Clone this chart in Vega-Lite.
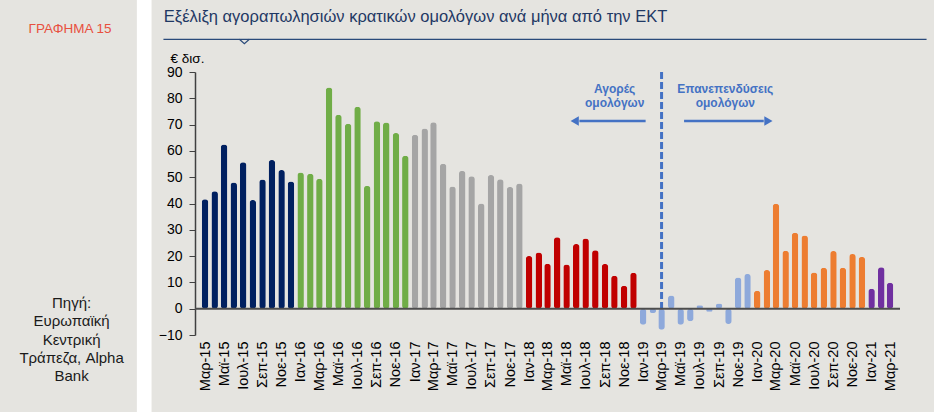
{
  "$schema": "https://vega.github.io/schema/vega-lite/v6.json",
  "width": 705,
  "height": 263,
  "autosize": {"type": "none"},
  "padding": {"left": 195, "top": 72, "right": 34, "bottom": 77},
  "background": "#E5E4E0",
  "config": {
    "view": {"stroke": null},
    "font": "Liberation Sans",
    "axis": {"labelOverlap": false, "labelBound": false, "labelSeparation": 0},
    "axisY": {"labelOverlap": false}
  },
  "datasets": {
    "bars": [
      {"d": "2015-03-01", "v": 41.6, "yr": "2015"},
      {"d": "2015-04-01", "v": 44.7, "yr": "2015"},
      {"d": "2015-05-01", "v": 62.4, "yr": "2015"},
      {"d": "2015-06-01", "v": 48.0, "yr": "2015"},
      {"d": "2015-07-01", "v": 55.7, "yr": "2015"},
      {"d": "2015-08-01", "v": 41.3, "yr": "2015"},
      {"d": "2015-09-01", "v": 49.1, "yr": "2015"},
      {"d": "2015-10-01", "v": 56.5, "yr": "2015"},
      {"d": "2015-11-01", "v": 52.7, "yr": "2015"},
      {"d": "2015-12-01", "v": 48.4, "yr": "2015"},
      {"d": "2016-01-01", "v": 51.8, "yr": "2016"},
      {"d": "2016-02-01", "v": 51.3, "yr": "2016"},
      {"d": "2016-03-01", "v": 49.4, "yr": "2016"},
      {"d": "2016-04-01", "v": 84.1, "yr": "2016"},
      {"d": "2016-05-01", "v": 73.7, "yr": "2016"},
      {"d": "2016-06-01", "v": 70.3, "yr": "2016"},
      {"d": "2016-07-01", "v": 76.8, "yr": "2016"},
      {"d": "2016-08-01", "v": 46.7, "yr": "2016"},
      {"d": "2016-09-01", "v": 71.3, "yr": "2016"},
      {"d": "2016-10-01", "v": 70.8, "yr": "2016"},
      {"d": "2016-11-01", "v": 66.8, "yr": "2016"},
      {"d": "2016-12-01", "v": 58.2, "yr": "2016"},
      {"d": "2017-01-01", "v": 66.1, "yr": "2017"},
      {"d": "2017-02-01", "v": 68.5, "yr": "2017"},
      {"d": "2017-03-01", "v": 70.9, "yr": "2017"},
      {"d": "2017-04-01", "v": 55.1, "yr": "2017"},
      {"d": "2017-05-01", "v": 46.5, "yr": "2017"},
      {"d": "2017-06-01", "v": 52.4, "yr": "2017"},
      {"d": "2017-07-01", "v": 50.4, "yr": "2017"},
      {"d": "2017-08-01", "v": 40.0, "yr": "2017"},
      {"d": "2017-09-01", "v": 50.8, "yr": "2017"},
      {"d": "2017-10-01", "v": 49.2, "yr": "2017"},
      {"d": "2017-11-01", "v": 46.3, "yr": "2017"},
      {"d": "2017-12-01", "v": 47.6, "yr": "2017"},
      {"d": "2018-01-01", "v": 20.0, "yr": "2018"},
      {"d": "2018-02-01", "v": 21.4, "yr": "2018"},
      {"d": "2018-03-01", "v": 17.1, "yr": "2018"},
      {"d": "2018-04-01", "v": 27.2, "yr": "2018"},
      {"d": "2018-05-01", "v": 16.8, "yr": "2018"},
      {"d": "2018-06-01", "v": 24.6, "yr": "2018"},
      {"d": "2018-07-01", "v": 26.7, "yr": "2018"},
      {"d": "2018-08-01", "v": 22.2, "yr": "2018"},
      {"d": "2018-09-01", "v": 17.0, "yr": "2018"},
      {"d": "2018-10-01", "v": 12.5, "yr": "2018"},
      {"d": "2018-11-01", "v": 8.7, "yr": "2018"},
      {"d": "2018-12-01", "v": 13.7, "yr": "2018"},
      {"d": "2019-01-01", "v": -6.1, "yr": "2019"},
      {"d": "2019-02-01", "v": -1.6, "yr": "2019"},
      {"d": "2019-03-01", "v": -8.0, "yr": "2019"},
      {"d": "2019-04-01", "v": 5.0, "yr": "2019"},
      {"d": "2019-05-01", "v": -6.1, "yr": "2019"},
      {"d": "2019-06-01", "v": -4.8, "yr": "2019"},
      {"d": "2019-07-01", "v": 1.3, "yr": "2019"},
      {"d": "2019-08-01", "v": -1.2, "yr": "2019"},
      {"d": "2019-09-01", "v": 2.0, "yr": "2019"},
      {"d": "2019-10-01", "v": -5.8, "yr": "2019"},
      {"d": "2019-11-01", "v": 11.9, "yr": "2019"},
      {"d": "2019-12-01", "v": 13.2, "yr": "2019"},
      {"d": "2020-01-01", "v": 6.8, "yr": "2020"},
      {"d": "2020-02-01", "v": 14.7, "yr": "2020"},
      {"d": "2020-03-01", "v": 39.9, "yr": "2020"},
      {"d": "2020-04-01", "v": 22.0, "yr": "2020"},
      {"d": "2020-05-01", "v": 28.9, "yr": "2020"},
      {"d": "2020-06-01", "v": 27.8, "yr": "2020"},
      {"d": "2020-07-01", "v": 13.8, "yr": "2020"},
      {"d": "2020-08-01", "v": 15.6, "yr": "2020"},
      {"d": "2020-09-01", "v": 21.9, "yr": "2020"},
      {"d": "2020-10-01", "v": 15.6, "yr": "2020"},
      {"d": "2020-11-01", "v": 20.8, "yr": "2020"},
      {"d": "2020-12-01", "v": 19.7, "yr": "2020"},
      {"d": "2021-01-01", "v": 7.6, "yr": "2021"},
      {"d": "2021-02-01", "v": 15.8, "yr": "2021"},
      {"d": "2021-03-01", "v": 9.9, "yr": "2021"}
    ],
    "one": [{}]
  },
  "layer": [
    {
      "data": {"name": "one"},
      "mark": {"type": "rule", "color": "#4472C4", "strokeWidth": 3, "strokeDash": [7, 3]},
      "encoding": {
        "x": {"datum": {"year": 2019, "month": 3, "date": 1, "utc": true}, "type": "temporal"},
        "y": {"datum": 90, "type": "quantitative"},
        "y2": {"datum": -8}
      }
    },
    {
      "data": {"name": "bars"},
      "mark": {"type": "bar", "size": 6.5, "cornerRadius": 3},
      "encoding": {
        "x": {
          "field": "d",
          "type": "temporal",
          "scale": {
            "type": "utc",
            "nice": false,
            "domain": [
              {"year": 2015, "month": 2, "date": 13, "utc": true},
              {"year": 2021, "month": 3, "date": 17, "utc": true}
            ]
          },
          "axis": {
            "title": null,
            "domain": false,
            "ticks": false,
            "grid": false,
            "labelAngle": 270,
            "labelPadding": 6,
            "labelFontSize": 14.5,
            "labelColor": "#000000",
            "labelOverlap": false,
            "labelFlush": false,
            "tickCount": {"interval": "month", "step": 2},
            "labelExpr": "['Ιαν','Φεβ','Μαρ','Απρ','Μαϊ','Ιουν','Ιουλ','Αυγ','Σεπ','Οκτ','Νοε','Δεκ'][utcmonth(datum.value)] + '-' + utcFormat(datum.value, '%y')"
          }
        },
        "y": {
          "field": "v",
          "type": "quantitative",
          "scale": {"domain": [-10, 90], "nice": false},
          "axis": {
            "title": "€ δισ.",
            "titleAngle": 0,
            "titleX": -8,
            "titleY": -10,
            "titleAlign": "center",
            "titleBaseline": "alphabetic",
            "titleFontSize": 13.5,
            "titleFontWeight": "normal",
            "titleColor": "#000000",
            "values": [-10, 0, 10, 20, 30, 40, 50, 60, 70, 80, 90],
            "tickCount": 11,
            "labelOverlap": false,
            "labelFontSize": 14,
            "labelColor": "#000000",
            "labelPadding": 7,
            "tickSize": 6,
            "tickColor": "#404040",
            "domainColor": "#404040",
            "domainWidth": 1.5,
            "gridColor": "#D6D6D6",
            "gridWidth": 1
          }
        },
        "color": {
          "field": "yr",
          "type": "nominal",
          "legend": null,
          "scale": {
            "domain": ["2015", "2016", "2017", "2018", "2019", "2020", "2021"],
            "range": ["#002060", "#70AD47", "#A5A5A5", "#C00000", "#8EA9DB", "#ED7D31", "#7030A0"]
          }
        }
      }
    },
    {
      "data": {"name": "one"},
      "mark": {"type": "rect", "color": "#FFFFFF"},
      "encoding": {
        "x": {"datum": {"year": 2014, "month": 7, "date": 26, "utc": true}, "type": "temporal"},
        "x2": {"datum": {"year": 2014, "month": 9, "date": 11, "utc": true}},
        "y": {"datum": 120, "type": "quantitative"},
        "y2": {"datum": -42}
      }
    },
    {
      "data": {"name": "one"},
      "mark": {"type": "text", "text": "Εξέλιξη αγοραπωλησιών κρατικών ομολόγων ανά μήνα από την ΕΚΤ", "align": "left", "baseline": "alphabetic", "fontSize": 16.5, "color": "#1F3864", "font": "Liberation Sans"},
      "encoding": {
        "x": {"datum": {"year": 2014, "month": 10, "date": 20, "utc": true}, "type": "temporal"},
        "y": {"datum": 109.13, "type": "quantitative"}
      }
    },
    {
      "data": {"name": "one"},
      "mark": {"type": "rule", "color": "#2A4A7A", "strokeWidth": 1.3},
      "encoding": {
        "x": {"datum": {"year": 2014, "month": 10, "date": 19, "utc": true}, "type": "temporal"},
        "x2": {"datum": {"year": 2021, "month": 6, "date": 26, "utc": true}},
        "y": {"datum": 102.43, "type": "quantitative"}
      }
    },
    {
      "data": {"name": "one"},
      "mark": {"type": "point", "shape": "M-1,0L0,0.9L1,0", "size": 100, "filled": false, "stroke": "#2A4A7A", "strokeWidth": 1.2, "opacity": 1},
      "encoding": {
        "x": {"datum": {"year": 2015, "month": 7, "date": 5, "utc": true}, "type": "temporal"},
        "y": {"datum": 102.43, "type": "quantitative"}
      }
    },
    {
      "data": {"name": "one"},
      "mark": {"type": "text", "text": "ΓΡΑΦΗΜΑ 15", "align": "center", "baseline": "alphabetic", "fontSize": 13.5, "color": "#E8503E", "font": "Liberation Sans"},
      "encoding": {
        "x": {"datum": {"year": 2013, "month": 12, "date": 24, "utc": true}, "type": "temporal"},
        "y": {"datum": 104.94, "type": "quantitative"}
      }
    },
    {
      "data": {"name": "one"},
      "mark": {"type": "text", "text": ["Πηγή:", "Ευρωπαϊκή", "Κεντρική", "Τράπεζα, Alpha", "Bank"], "align": "center", "baseline": "middle", "fontSize": 15, "lineHeight": 18.3, "color": "#1A1A1A", "font": "Liberation Sans"},
      "encoding": {
        "x": {"datum": {"year": 2013, "month": 12, "date": 29, "utc": true}, "type": "temporal"},
        "y": {"datum": 2.17, "type": "quantitative"}
      }
    },
    {
      "data": {"name": "one"},
      "mark": {"type": "rule", "color": "#4D4D4D", "strokeWidth": 2},
      "encoding": {
        "y": {"datum": 0, "type": "quantitative"}
      }
    },
    {
      "data": {"name": "one"},
      "mark": {"type": "rule", "color": "#4472C4", "strokeWidth": 2.5},
      "encoding": {
        "x": {"datum": {"year": 2018, "month": 6, "date": 11, "utc": true}, "type": "temporal"},
        "x2": {"datum": {"year": 2019, "month": 1, "date": 9, "utc": true}},
        "y": {"datum": 71.37, "type": "quantitative"}
      }
    },
    {
      "data": {"name": "one"},
      "mark": {"type": "point", "shape": "triangle-left", "size": 90, "filled": true, "color": "#4472C4", "opacity": 1},
      "encoding": {
        "x": {"datum": {"year": 2018, "month": 5, "date": 27, "utc": true}, "type": "temporal"},
        "y": {"datum": 71.37, "type": "quantitative"}
      }
    },
    {
      "data": {"name": "one"},
      "mark": {"type": "rule", "color": "#4472C4", "strokeWidth": 2.5},
      "encoding": {
        "x": {"datum": {"year": 2019, "month": 5, "date": 12, "utc": true}, "type": "temporal"},
        "x2": {"datum": {"year": 2020, "month": 1, "date": 22, "utc": true}},
        "y": {"datum": 71.37, "type": "quantitative"}
      }
    },
    {
      "data": {"name": "one"},
      "mark": {"type": "point", "shape": "triangle-right", "size": 90, "filled": true, "color": "#4472C4", "opacity": 1},
      "encoding": {
        "x": {"datum": {"year": 2020, "month": 2, "date": 6, "utc": true}, "type": "temporal"},
        "y": {"datum": 71.37, "type": "quantitative"}
      }
    },
    {
      "data": {"name": "one"},
      "mark": {"type": "text", "text": ["Αγορές", "ομολόγων"], "align": "center", "baseline": "middle", "fontSize": 12, "fontWeight": "bold", "lineHeight": 14, "color": "#4472C4", "font": "Liberation Sans"},
      "encoding": {
        "x": {"datum": {"year": 2018, "month": 10, "date": 2, "utc": true}, "type": "temporal"},
        "y": {"datum": 83.42, "type": "quantitative"}
      }
    },
    {
      "data": {"name": "one"},
      "mark": {"type": "text", "text": ["Επανεπενδύσεις", "ομολόγων"], "align": "center", "baseline": "middle", "fontSize": 12, "fontWeight": "bold", "lineHeight": 14, "color": "#4472C4", "font": "Liberation Sans"},
      "encoding": {
        "x": {"datum": {"year": 2019, "month": 9, "date": 21, "utc": true}, "type": "temporal"},
        "y": {"datum": 83.42, "type": "quantitative"}
      }
    }
  ]
}
